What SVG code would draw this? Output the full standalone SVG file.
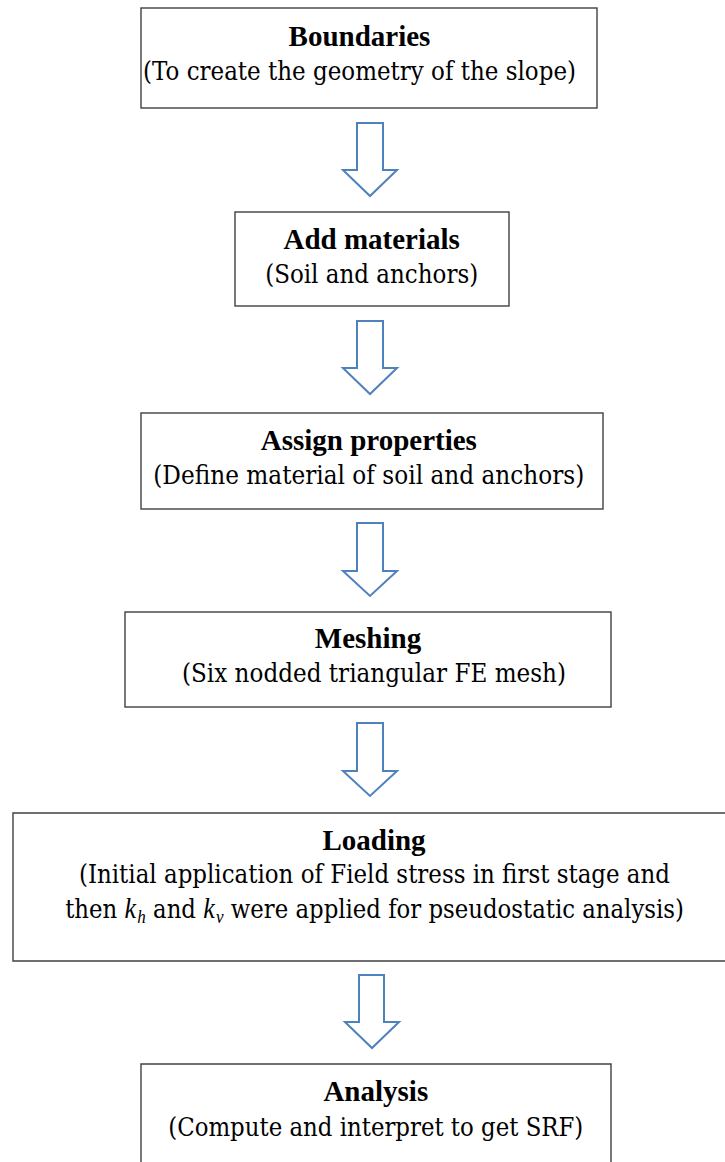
<svg xmlns="http://www.w3.org/2000/svg" width="725" height="1162" viewBox="0 0 725 1162">
<style>
.box{fill:#fff;stroke:#404040;stroke-width:1.4}
.open{fill:none;stroke:#404040;stroke-width:1.4}
.arr{fill:#fff;stroke:#4F81BD;stroke-width:2;stroke-linejoin:miter}
text{fill:#000;text-anchor:middle}
.t{font-family:"Liberation Serif",serif;font-size:29px;font-weight:bold}
.r{font-family:"DejaVu Serif",serif;font-size:25.5px}
.i{font-family:"Liberation Serif",serif;font-size:29px;font-style:italic}
.s{font-family:"Liberation Serif",serif;font-size:19px;font-style:italic}
</style>
<rect width="725" height="1162" fill="#fff"/>
<g id="connectors">
<path class="arr" d="M357,123 H383 V170 H397 L370,196 L343,170 H357 Z"/>
<path class="arr" d="M357,321 H383 V368 H397 L370,394 L343,368 H357 Z"/>
<path class="arr" d="M357,523 H383 V571 H397 L370,596 L343,571 H357 Z"/>
<path class="arr" d="M357,723 H383 V771 H397 L370,796 L343,771 H357 Z"/>
<path class="arr" d="M359,975 H384 V1022 H399 L372,1048 L345,1022 H359 Z"/>
</g>
<g id="boundaries">
<rect class="box" x="141" y="8" width="456" height="100"/>
<text class="t" x="359.5" y="46">Boundaries</text>
<text class="r" x="359.5" y="80" textLength="433" lengthAdjust="spacingAndGlyphs">(To create the geometry of the slope)</text>
</g>
<g id="add-materials">
<rect class="box" x="235" y="212" width="274" height="94"/>
<text class="t" x="371.7" y="248.5">Add materials</text>
<text class="r" x="371.7" y="282.5" textLength="213" lengthAdjust="spacingAndGlyphs">(Soil and anchors)</text>
</g>
<g id="assign-properties">
<rect class="box" x="141" y="413" width="462" height="96"/>
<text class="t" x="368.8" y="450">Assign properties</text>
<text class="r" x="368.8" y="484" textLength="431" lengthAdjust="spacingAndGlyphs">(Define material of soil and anchors)</text>
</g>
<g id="meshing">
<rect class="box" x="125" y="612" width="486" height="95"/>
<text class="t" x="368" y="648">Meshing</text>
<text class="r" x="374" y="682" textLength="384" lengthAdjust="spacingAndGlyphs">(Six nodded triangular FE mesh)</text>
</g>
<g id="loading">
<path class="open" d="M725,813 H13 V961 H725"/>
<text class="t" x="374" y="850">Loading</text>
<text class="r" transform="translate(374.5,0) scale(0.75,1)" x="0" y="883" textLength="788" lengthAdjust="spacingAndGlyphs">(Initial application of Field stress in first stage and</text>
<text class="r" transform="translate(374.5,0) scale(0.75,1)" x="0" y="918" textLength="825" lengthAdjust="spacingAndGlyphs">then <tspan class="i">k</tspan><tspan class="s" dx="1.5" dy="5">h</tspan><tspan dy="-5"> and </tspan><tspan class="i">k</tspan><tspan class="s" dx="1.5" dy="5">v</tspan><tspan dy="-5"> were applied for pseudostatic analysis)</tspan></text>
</g>
<g id="analysis">
<path class="open" d="M141,1162 V1064 H611 V1162"/>
<text class="t" x="375.8" y="1101">Analysis</text>
<text class="r" x="375.8" y="1136" textLength="415" lengthAdjust="spacingAndGlyphs">(Compute and interpret to get SRF)</text>
</g>
</svg>
